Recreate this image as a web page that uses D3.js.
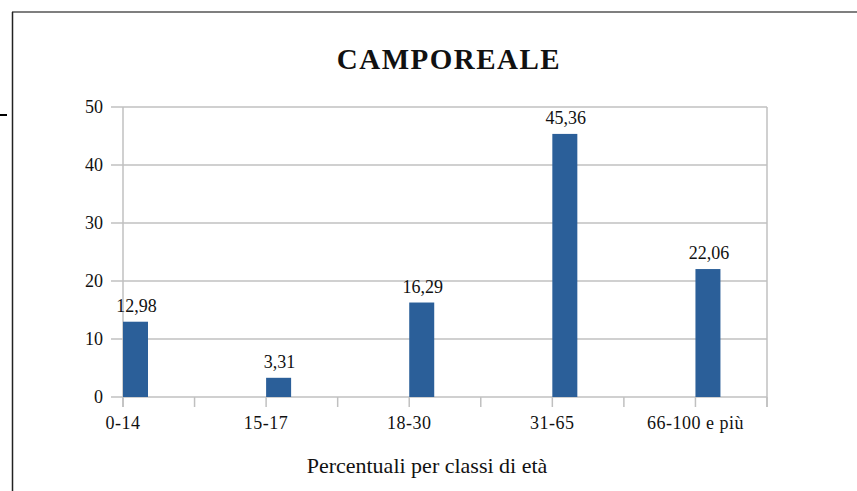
<!DOCTYPE html>
<html><head><meta charset="utf-8">
<script src="https://cdn.jsdelivr.net/npm/d3@7"></script>
<style>body{margin:0;background:#fff}svg{display:block}</style>
</head><body>
<script>
const categories = ["0-14","15-17","18-30","31-65","66-100 e più"];
const values = [12.98, 3.31, 16.29, 45.36, 22.06];
const valueLabels = ["12,98","3,31","16,29","45,36","22,06"];
const yTicks = [0,10,20,30,40,50];
const title = "CAMPOREALE";
const xTitle = "Percentuali per classi di età";

(function(){
const W = 857, H = 491;
const svg = d3.select("body").append("svg").attr("width", W).attr("height", H)
  .attr("font-family", "'Liberation Serif', 'Times New Roman', Tinos, serif").attr("fill", "#111");

svg.append("line").attr("x1",12).attr("x2",W).attr("y1",12).attr("y2",12).attr("stroke","#7f7f7f").attr("stroke-width",2);
svg.append("line").attr("x1",12.5).attr("x2",12.5).attr("y1",12).attr("y2",H).attr("stroke","#222").attr("stroke-width",1.5);
svg.append("line").attr("x1",0).attr("x2",7).attr("y1",115).attr("y2",115).attr("stroke","#000").attr("stroke-width",2);

const pLeft = 123, pRight = 767, pTop = 107, pBottom = 397;
const slot = (pRight - pLeft) / 4.5;
const x = d3.scalePoint().domain(categories).range([pLeft, pLeft + 4 * slot]);
const y = d3.scaleLinear().domain([0, 50]).range([pBottom, pTop]);
const barW = 25;

const g = svg.append("g");
g.selectAll(".grid").data(yTicks).join("line")
  .attr("x1", 111).attr("x2", pRight).attr("y1", d => y(d)).attr("y2", d => y(d))
  .attr("stroke", "#c0c0c0").attr("stroke-width", 1.5);
g.selectAll(".yl").data(yTicks).join("text")
  .attr("x", 103).attr("y", d => y(d)).attr("dy", "0.35em").attr("text-anchor", "end")
  .attr("font-size", 18).text(d => d);

g.append("line").attr("x1", pLeft).attr("x2", pLeft).attr("y1", pTop).attr("y2", pBottom + 10).attr("stroke", "#c0c0c0").attr("stroke-width", 1.5);
g.append("line").attr("x1", pRight).attr("x2", pRight).attr("y1", pTop).attr("y2", pBottom + 10).attr("stroke", "#c0c0c0").attr("stroke-width", 1.5);
const tickPos = d3.range(0, 10).map(i => pLeft + i * slot / 2);
g.selectAll(".xt").data(tickPos).join("line")
  .attr("x1", d => d).attr("x2", d => d).attr("y1", pBottom).attr("y2", pBottom + 10)
  .attr("stroke", "#c0c0c0").attr("stroke-width", 1.5);

svg.selectAll(".bar").data(values).join("rect")
  .attr("x", (d, i) => x(categories[i]))
  .attr("y", d => y(d)).attr("width", barW).attr("height", d => pBottom - y(d))
  .attr("fill", "#2b5f99");
svg.selectAll(".vl").data(values).join("text")
  .attr("x", (d, i) => x(categories[i]) + barW / 2 + 1)
  .attr("y", d => y(d) - 10).attr("text-anchor", "middle").attr("font-size", 18)
  .text((d, i) => valueLabels[i]);

svg.selectAll(".cl").data(categories).join("text")
  .attr("x", d => x(d)).attr("y", 429).attr("text-anchor", "middle").attr("font-size", 18)
  .attr("letter-spacing", 0.5).text(d => d);

svg.append("text").attr("x", 449).attr("y", 69).attr("text-anchor", "middle")
  .attr("font-size", 29).attr("font-weight", "bold").attr("letter-spacing", 1.5).text(title);
svg.append("text").attr("x", 427).attr("y", 473).attr("text-anchor", "middle")
  .attr("font-size", 22).text(xTitle);
})();
</script>
</body></html>
